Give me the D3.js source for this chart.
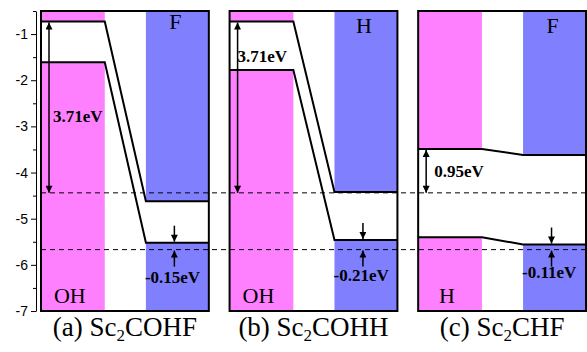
<!DOCTYPE html>
<html>
<head>
<meta charset="utf-8">
<script src="https://cdn.jsdelivr.net/npm/d3@7/dist/d3.min.js"></script>
<style>
  body { margin: 0; background: #fff; }
  svg { display: block; }
</style>
</head>
<body>
<svg id="chart" width="587" height="352"></svg>
<script>
// Band alignment of three Sc2C-based heterostructures against the water redox levels (eV)
const panelIds = ["a", "b", "c"];
const captionPrefix = ["(a) Sc", "(b) Sc", "(c) Sc"];
const captionSub = ["2", "2", "2"];
const captionSuffix = ["COHF", "COHH", "CHF"];
const leftTerm = ["OH", "OH", "H"];
const rightTerm = ["F", "H", "F"];
const cbmAboveRed = [3.71, 3.71, 0.95];      // left-side CBM above the H+/H2 level
const leftVBM = [-1.61, -1.78, -5.40];
const rightCBM = [-4.62, -4.42, -3.62];
const vbmOffset = [-0.15, -0.21, -0.11];      // right-side VBM relative to the O2/H2O level
const redLevel = -4.44;                       // H+/H2
const oxLevel = -5.67;                        // O2/H2O
const yTicks = [-1, -2, -3, -4, -5, -6, -7];
const yMinorTicks = [-0.5, -1.5, -2.5, -3.5, -4.5, -5.5, -6.5];

// layout
const pinkFill = "#ff80ff", blueFill = "#8080ff";
const pinkEnd = 0.38, blueStart = 0.625;
const gapLabelAt = [[12, 122], [8, 62], [16, 177]];   // [dx from frame, baseline]
const offsetLabelDy = [33, 31, 28];
const rightTermY = [29, 33, 33];

const svg = d3.select("#chart");
const y = d3.scaleLinear().domain([-7, -0.5]).range([311, 11]);
const panelX = d3.scaleBand().domain(panelIds).range([41, 586]).paddingInner(0.11).paddingOuter(0);
const bw = panelX.bandwidth();

// arrowhead marker
const defs = svg.append("defs");
defs.append("marker")
  .attr("id", "head")
  .attr("viewBox", "0 0 10 10")
  .attr("refX", 10).attr("refY", 5)
  .attr("markerUnits", "userSpaceOnUse")
  .attr("markerWidth", 8).attr("markerHeight", 7)
  .attr("orient", "auto-start-reverse")
  .append("path").attr("d", "M0,0 L10,5 L0,10 Z").attr("fill", "#000");

// y axis
const axisG = svg.append("g").attr("transform", "translate(36,0)");
axisG.call(d3.axisLeft(y).tickValues(yTicks).tickSize(5).tickSizeOuter(0).tickFormat(d => String(d)));
axisG.append("g").call(d3.axisLeft(y).tickValues(yMinorTicks).tickSize(3).tickSizeOuter(0).tickFormat(""))
  .select(".domain").remove();
axisG.selectAll("text")
  .attr("font-family", "'Liberation Sans', Arial, sans-serif")
  .attr("font-size", 14).attr("fill", "#000").attr("x", -8);
axisG.selectAll("line, path").attr("stroke", "#000").attr("stroke-width", 1);

const rows = panelIds.map((id, i) => ({
  id, i,
  lCBM: redLevel + cbmAboveRed[i],
  lVBM: leftVBM[i],
  rCBM: rightCBM[i],
  rVBM: oxLevel - vbmOffset[i]
}));

const panels = svg.selectAll("g.panel").data(rows).join("g").attr("class", "panel");

panels.each(function (d) {
  const g = d3.select(this);
  const x0 = panelX(d.id);
  const x = d3.scaleLinear().domain([0, 1]).range([x0, x0 + bw]);
  const top = y(-0.5), bottom = y(-7);

  // substrate-side (pink) and adsorbate-side (blue) bands
  const fills = [
    { x1: 0, x2: pinkEnd, y1: top, y2: y(d.lCBM), c: pinkFill },
    { x1: 0, x2: pinkEnd, y1: y(d.lVBM), y2: bottom, c: pinkFill },
    { x1: blueStart, x2: 1, y1: top, y2: y(d.rCBM), c: blueFill },
    { x1: blueStart, x2: 1, y1: y(d.rVBM), y2: bottom, c: blueFill }
  ];
  g.selectAll("rect.fill").data(fills).join("rect").attr("class", "fill")
    .attr("x", f => x(f.x1)).attr("width", f => x(f.x2) - x(f.x1))
    .attr("y", f => f.y1).attr("height", f => f.y2 - f.y1)
    .attr("fill", f => f.c);
});

// redox reference levels
svg.selectAll("line.redox").data([redLevel, oxLevel]).join("line").attr("class", "redox")
  .attr("x1", 41).attr("x2", 587)
  .attr("y1", d => y(d)).attr("y2", d => y(d))
  .attr("stroke", "#000").attr("stroke-width", 1).attr("stroke-dasharray", "5,4");

panels.each(function (d) {
  const g = d3.select(this);
  const i = d.i;
  const x0 = panelX(d.id);
  const x = d3.scaleLinear().domain([0, 1]).range([x0, x0 + bw]);
  const line = d3.line().x(p => x(p[0])).y(p => y(p[1]));

  // band edges
  [[d.lCBM, d.rCBM], [d.lVBM, d.rVBM]].forEach(([l, r]) => {
    g.append("path")
      .attr("d", line([[0, l], [pinkEnd, l], [blueStart, r], [1, r]]))
      .attr("fill", "none").attr("stroke", "#000").attr("stroke-width", 2);
  });

  // frame
  g.append("rect")
    .attr("x", x0).attr("y", y(-0.5)).attr("width", bw).attr("height", y(-7) - y(-0.5))
    .attr("fill", "none").attr("stroke", "#000").attr("stroke-width", 2);

  // CBM to H+/H2 arrow
  const ax = x0 + 8;
  g.append("line")
    .attr("x1", ax).attr("x2", ax).attr("y1", y(d.lCBM) + 1).attr("y2", y(redLevel))
    .attr("stroke", "#000").attr("stroke-width", 1.5)
    .attr("marker-start", "url(#head)").attr("marker-end", "url(#head)");
  g.append("text")
    .attr("x", x0 + gapLabelAt[i][0]).attr("y", gapLabelAt[i][1])
    .attr("font-family", "'Liberation Serif', 'Times New Roman', serif")
    .attr("font-weight", "bold").attr("font-size", 17)
    .text(cbmAboveRed[i].toFixed(2) + "eV");

  // VBM offset arrows
  const bx = x((blueStart + 1) / 2) - 3;
  g.append("line")
    .attr("x1", bx).attr("x2", bx).attr("y1", y(d.rVBM) - 17).attr("y2", y(d.rVBM) - 1)
    .attr("stroke", "#000").attr("stroke-width", 1.5).attr("marker-end", "url(#head)");
  g.append("line")
    .attr("x1", bx).attr("x2", bx).attr("y1", y(oxLevel) + 17).attr("y2", y(oxLevel) + 1)
    .attr("stroke", "#000").attr("stroke-width", 1.5).attr("marker-end", "url(#head)");
  g.append("text")
    .attr("x", x(blueStart) - 1).attr("y", y(oxLevel) + offsetLabelDy[i])
    .attr("font-family", "'Liberation Serif', 'Times New Roman', serif")
    .attr("font-weight", "bold").attr("font-size", 17)
    .text(vbmOffset[i].toFixed(2) + "eV");

  // terminations
  g.append("text")
    .attr("x", x(pinkEnd / 2) - 3).attr("y", 303).attr("text-anchor", "middle")
    .attr("font-family", "'Liberation Serif', 'Times New Roman', serif").attr("font-size", 22)
    .text(leftTerm[i]);
  g.append("text")
    .attr("x", x((blueStart + 1) / 2) - 2).attr("y", rightTermY[i]).attr("text-anchor", "middle")
    .attr("font-family", "'Liberation Serif', 'Times New Roman', serif").attr("font-size", 22)
    .text(rightTerm[i]);

  // caption
  const cap = g.append("text")
    .attr("x", x0 + bw / 2).attr("y", 336).attr("text-anchor", "middle")
    .attr("font-family", "'Liberation Serif', 'Times New Roman', serif").attr("font-size", 27);
  cap.append("tspan").text(captionPrefix[i]);
  cap.append("tspan").attr("font-size", 17).attr("dy", 5).text(captionSub[i]);
  cap.append("tspan").attr("dy", -5).text(captionSuffix[i]);
});
</script>
</body>
</html>
